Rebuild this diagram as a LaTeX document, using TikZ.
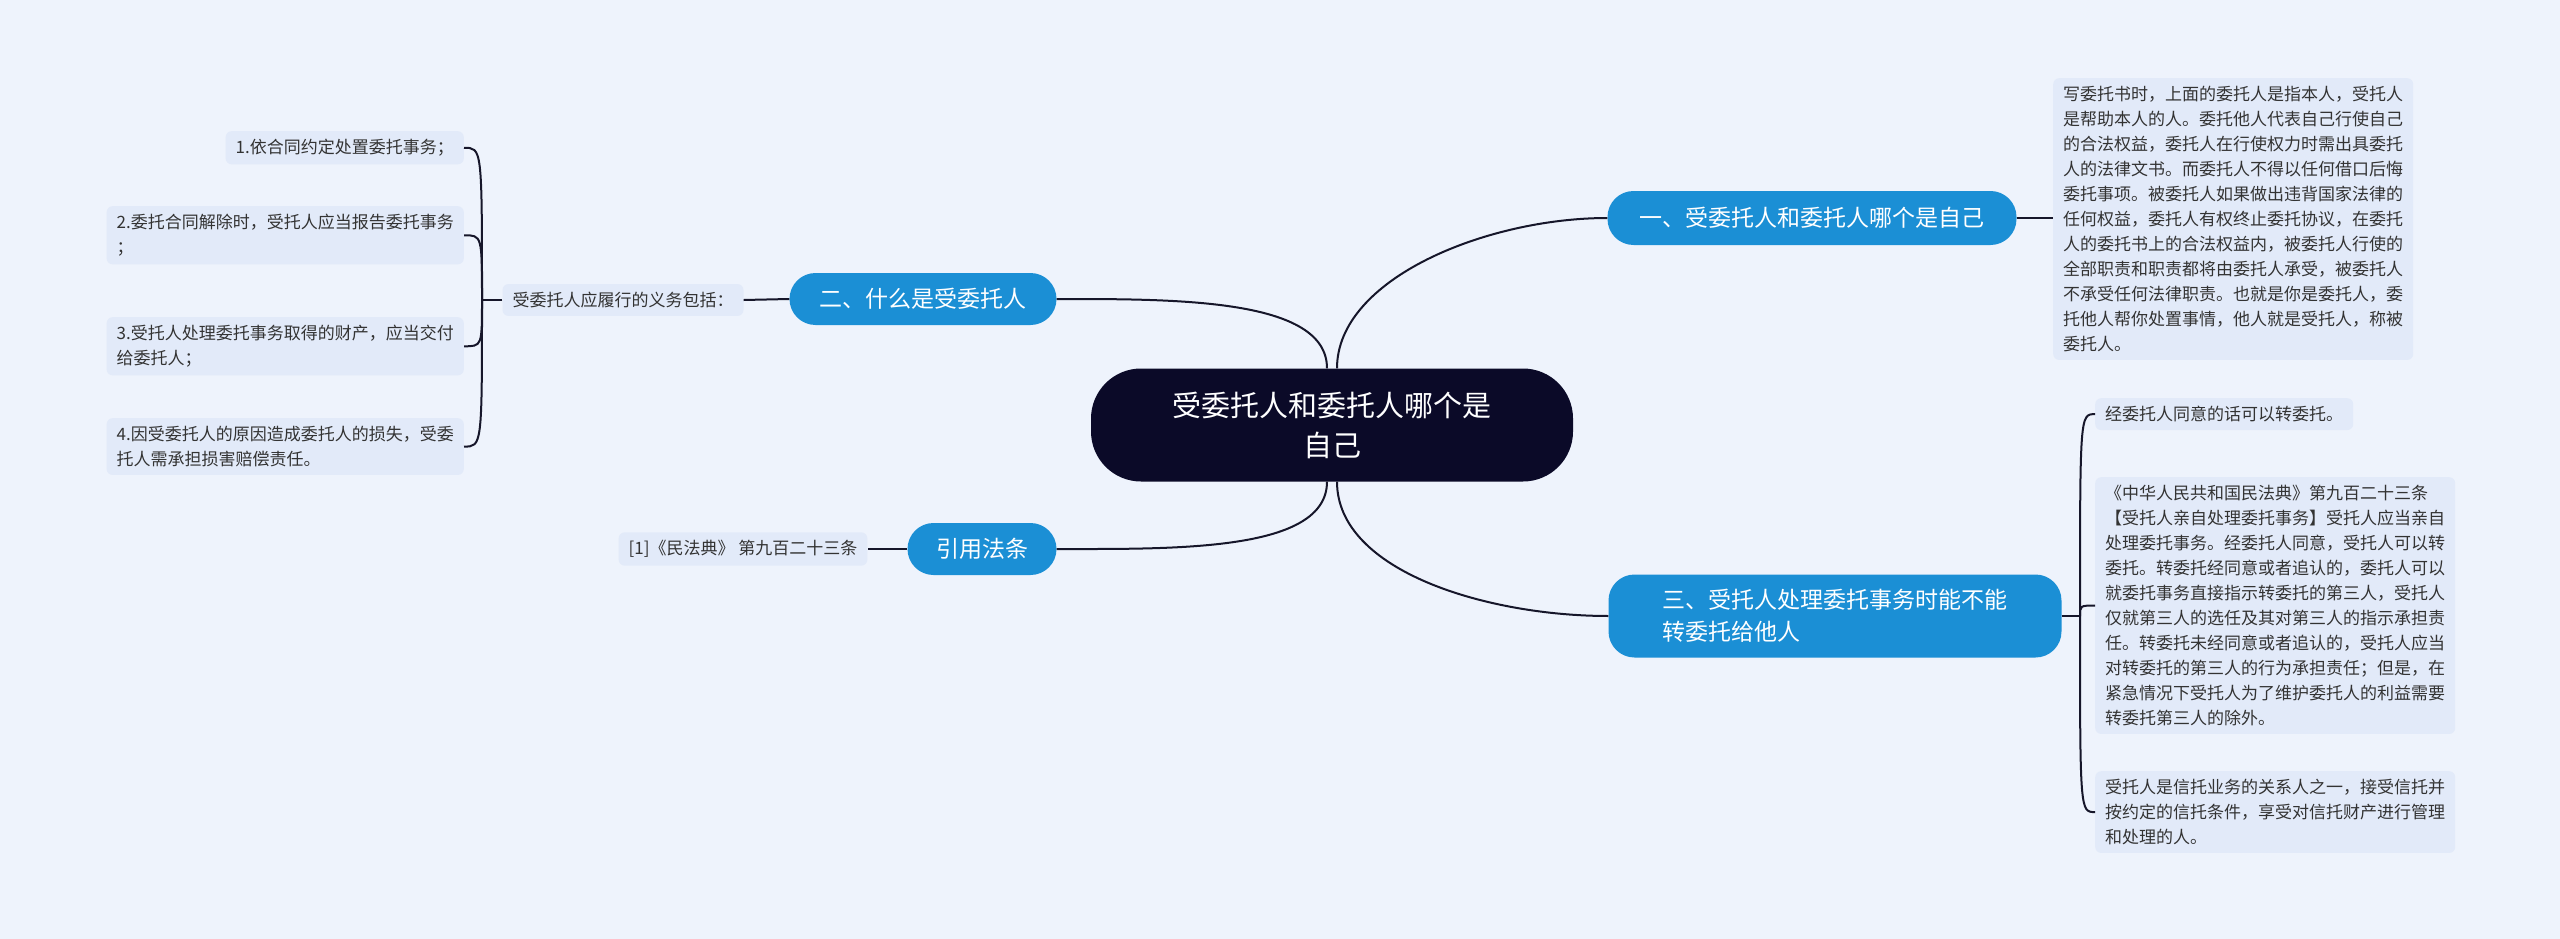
\documentclass[tikz,border=0pt]{standalone}
\usepackage{fontspec}
\setmainfont{Noto Sans CJK SC}
\usepackage{xcolor}
\usetikzlibrary{calc}
\definecolor{bgcol}{HTML}{EEF3FC}
\definecolor{boxcol}{HTML}{E2EAF9}
\definecolor{rootcol}{HTML}{0B0A28}
\definecolor{branchcol}{HTML}{1B8FD5}
\definecolor{linecol}{HTML}{16162A}
\tikzset{
  leaf/.style={fill=boxcol, rounded corners=6pt, inner xsep=10pt, inner ysep=8pt, align=left, anchor=north west,
    font=\fontsize{17}{25}\selectfont, text=black!80},
  branch/.style={fill=branchcol, rounded corners=26pt, text=white, align=left, inner xsep=20pt,
    font=\fontsize{23}{32}\selectfont},
  link/.style={draw=linecol, line width=2pt}
}
\begin{document}
\begin{tikzpicture}[x=1pt, y=-1pt]
        \fill[bgcol] (0,0) rectangle (2560,939);
        \useasboundingbox (0,0) rectangle (2560,939);

        \node (root) [fill=rootcol, rounded corners=50pt, text=white, align=center, minimum width=482pt, minimum height=113pt,
          font=\fontsize{29}{40}\selectfont] at (1332,425) {受委托人和委托人哪个是\\自己};

        \node (b one) [branch, minimum width=409pt, minimum height=54pt] at (1812,218) {一、受委托人和委托人哪个是自己};
        \node (b three) [branch, minimum width=453pt, minimum height=83pt] at (1835,616) {三、受托人处理委托事务时能不能\\转委托给他人};
        \node (b two) [branch, minimum width=267pt, minimum height=52pt] at (923,299) {二、什么是受委托人};
        \node (b four) [branch, minimum width=149pt, minimum height=52pt] at (982,549) {引用法条};

        \node (t one) [leaf] at (2053,78) {写委托书时，上面的委托人是指本人，受托人\\是帮助本人的人。委托他人代表自己行使自己\\的合法权益，委托人在行使权力时需出具委托\\人的法律文书。而委托人不得以任何借口后悔\\委托事项。被委托人如果做出违背国家法律的\\任何权益，委托人有权终止委托协议，在委托\\人的委托书上的合法权益内，被委托人行使的\\全部职责和职责都将由委托人承受，被委托人\\不承受任何法律职责。也就是你是委托人，委\\托他人帮你处置事情，他人就是受托人，称被\\委托人。};

        \node (t a) [leaf] at (2095,398) {经委托人同意的话可以转委托。};
        \node (t b) [leaf] at (2095,477) {《中华人民共和国民法典》第九百二十三条\\【受托人亲自处理委托事务】受托人应当亲自\\处理委托事务。经委托人同意，受托人可以转\\委托。转委托经同意或者追认的，委托人可以\\就委托事务直接指示转委托的第三人，受托人\\仅就第三人的选任及其对第三人的指示承担责\\任。转委托未经同意或者追认的，受托人应当\\对转委托的第三人的行为承担责任；但是，在\\紧急情况下受托人为了维护委托人的利益需要\\转委托第三人的除外。};
        \node (t c) [leaf] at (2095,771) {受托人是信托业务的关系人之一，接受信托并\\按约定的信托条件，享受对信托财产进行管理\\和处理的人。};

        \node (duty) [leaf, anchor=center] at (623,300) {受委托人应履行的义务包括：};
        \node (l1) [leaf, anchor=north east] at (464,131) {1.依合同约定处置委托事务；};
        \node (l2) [leaf, anchor=north east] at (464,206) {2.委托合同解除时，受托人应当报告委托事务\\；};
        \node (l3) [leaf, anchor=north east] at (464,317) {3.受托人处理委托事务取得的财产，应当交付\\给委托人；};
        \node (l4) [leaf, anchor=north east] at (464,418) {4.因受委托人的原因造成委托人的损失，受委\\托人需承担损害赔偿责任。};
        \node (law) [leaf, anchor=center] at (743,549) {[1]《民法典》 第九百二十三条};

        \coordinate (j right) at (2080,616);
        \coordinate (j left) at (482,300);

        % root to branches
        \draw[link] (root.north) ++(5,0) .. controls +(0,-90) and +(-120,0) .. (b one.west);
        \draw[link] (root.south) ++(5,0) .. controls +(0,90) and +(-120,0) .. (b three.west);
        \draw[link] (root.north) ++(-5,0) .. controls +(0,-70) and +(120,0) .. (b two.east);
        \draw[link] (root.south) ++(-5,0) .. controls +(0,70) and +(120,0) .. (b four.east);

        % branches to leaves
        \draw[link] (b one.east) -- (t one.west |- b one.east);
        \draw[link] (b three.east) -- (j right);
        \foreach \t in {t a, t b, t c}
          \draw[link] (j right) .. controls ($(j right |- \t.west)+(0,0)$) .. (\t.west);
        \draw[link] (b two.west) -- (duty.east);
        \draw[link] (duty.west) -- (j left);
        \foreach \t in {l1, l2, l3, l4}
          \draw[link] (j left) .. controls (j left |- \t.east) .. (\t.east);
        \draw[link] (b four.west) -- (law.east);
\end{tikzpicture}
\end{document}
